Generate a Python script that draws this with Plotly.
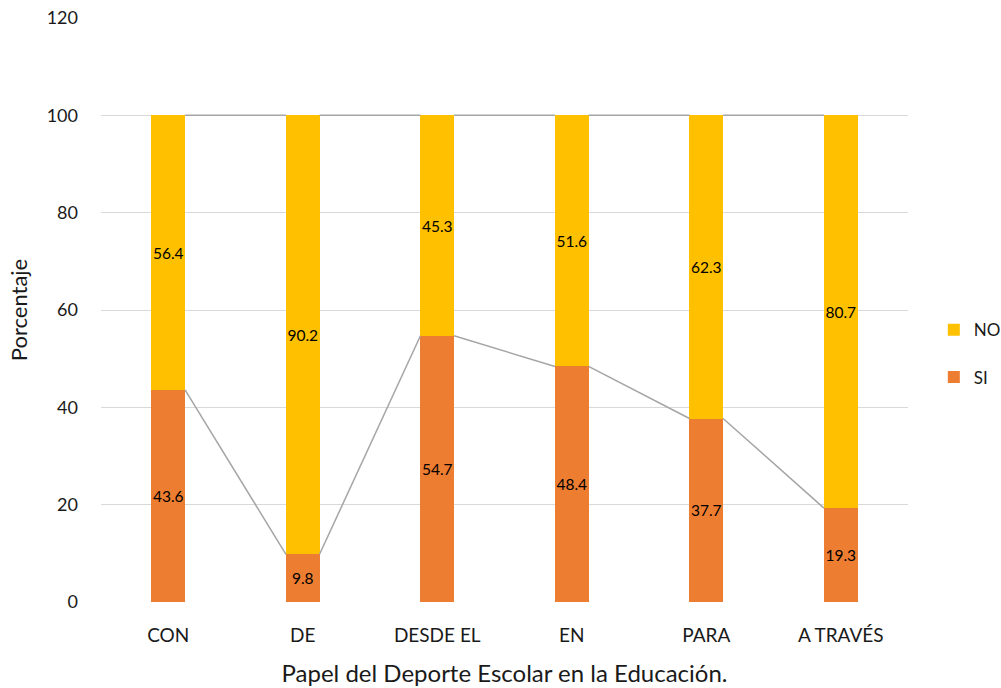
import plotly.graph_objects as go

categories = ["CON", "DE", "DESDE EL", "EN", "PARA", "A TRAVÉS"]
si_values = [43.6, 9.8, 54.7, 48.4, 37.7, 19.3]
no_values = [56.4, 90.2, 45.3, 51.6, 62.3, 80.7]
y_ticks = [0, 20, 40, 60, 80, 100, 120]

SI_COLOR = "#ED7D31"
NO_COLOR = "#FFC000"
LINE_COLOR = "#A5A5A5"
FONT = "Lato, Open Sans, sans-serif"
TXT = "#1a1a1a"
BW = 0.25

xs = list(range(len(categories)))

fig = go.Figure()
fig.add_trace(go.Bar(
    x=xs, y=si_values, name="SI", marker=dict(color=SI_COLOR, line=dict(width=0)),
    width=BW, text=[f"{v:.1f}" for v in si_values], textposition="inside",
    insidetextanchor="middle", textangle=0, constraintext="none",
    textfont=dict(color="black", size=15.5, family=FONT), legendrank=2, legendgroup="si",
))
fig.add_trace(go.Bar(
    x=xs, y=no_values, name="NO", marker=dict(color=NO_COLOR, line=dict(width=0)),
    width=BW, text=[f"{v:.1f}" for v in no_values], textposition="inside",
    insidetextanchor="middle", textangle=0, constraintext="none",
    textfont=dict(color="black", size=15.5, family=FONT), legendrank=1, legendgroup="no",
))

# series lines (Excel-style) connecting stack tops between bars
tops_si = si_values
tops_no = [s + n for s, n in zip(si_values, no_values)]
for tops in (tops_si, tops_no):
    lx, ly = [], []
    for i in range(len(categories) - 1):
        lx += [xs[i] + BW / 2, xs[i + 1] - BW / 2, None]
        ly += [tops[i], tops[i + 1], None]
    fig.add_trace(go.Scatter(x=lx, y=ly, mode="lines", line=dict(color=LINE_COLOR, width=1.5),
                             showlegend=False, hoverinfo="skip"))

fig.update_layout(
    barmode="stack",
    width=1001, height=688,
    margin=dict(l=101, r=93, t=18, b=86, autoexpand=False),
    paper_bgcolor="white", plot_bgcolor="white",
    font=dict(family=FONT, color=TXT, size=17),
    legend=dict(x=1.032, y=0.425, xanchor="left", yanchor="middle",
                traceorder="grouped", tracegroupgap=22,
                font=dict(size=17, color=TXT), itemwidth=30),
    xaxis=dict(range=[-0.5, 5.5], tickmode="array", tickvals=xs, ticktext=categories,
               showgrid=False, zeroline=False, showline=False, ticks="", automargin=False,
               ticklabelstandoff=20,
               tickfont=dict(size=19, color=TXT),
               title=dict(text="Papel del Deporte Escolar en la Educación.", font=dict(size=24), standoff=20)),
    yaxis=dict(range=[0, 120], tickmode="array", tickvals=y_ticks, automargin=False,
               showgrid=True, gridcolor="#D9D9D9", gridwidth=1, zeroline=False, showline=False, ticks="",
               ticklabelstandoff=22,
               tickfont=dict(size=18, color=TXT),
               title=dict(text="Porcentaje", font=dict(size=22), standoff=12)),
)

fig.write_html("out.html", config={"displayModeBar": False},
               post_script="document.body.style.margin='0';")
